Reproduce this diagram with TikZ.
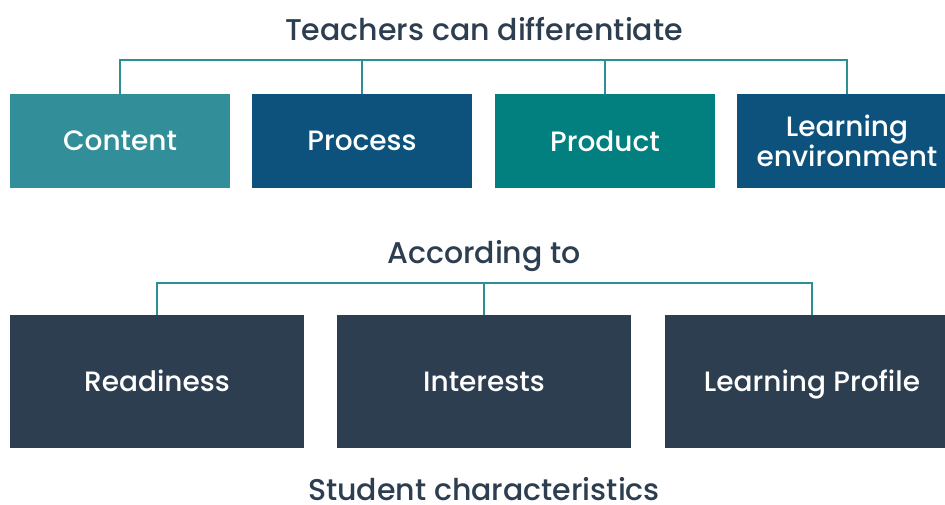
\documentclass[tikz,border=0pt]{standalone}
\usepackage{fontspec}
\setmainfont{Poppins}[UprightFont=* Medium]
\usetikzlibrary{calc}
\definecolor{ink}{HTML}{2D3E50}
\definecolor{tealA}{HTML}{328F9A}
\definecolor{tealB}{HTML}{02807F}
\definecolor{navy}{HTML}{0C527C}
\definecolor{rule}{HTML}{2A9096}
\tikzset{
  box/.style={inner sep=0pt,text=white,align=center,font=\fontsize{28}{28}\selectfont},
  trait/.style={box,fill=ink,minimum width=294,minimum height=133,text height=20pt,text depth=0pt},
  head/.style={inner sep=0pt,text=ink,font=\fontsize{30}{32}\selectfont},
  link/.style={draw=rule,line width=1.1pt}
}
\begin{document}
\begin{tikzpicture}[x=1pt,y=-1pt]
\useasboundingbox (0,0) rectangle (945,504);
\def\w{220}
% first row
\node[head] (t1) at (484,29) {Teachers can differentiate};
\node[box,fill=tealA,minimum width=\w,minimum height=94] (a1) at (120,141) {Content};
\node[box,fill=navy,minimum width=\w,minimum height=94] (a2) at (362,141) {Process};
\node[box,fill=tealB,minimum width=\w,minimum height=94] (a3) at (605,141) {Product};
\node[box,fill=navy,minimum width=\w,minimum height=94] (a4) at (847,141) {Learning\\environment};
\coordinate (bar1) at (484,60);
\draw[link] (a1.north) |- (bar1) -| (a4.north);
\draw[link] (a2.north) -- (a2.north |- bar1);
\draw[link] (a3.north) -- (a3.north |- bar1);

% second row
\node[head] (t2) at (484,256) {According to};
\node[trait] (b1) at (157,381.5) {Readiness};
\node[trait] (b2) at (484,381.5) {Interests};
\node[trait] (b3) at (812,381.5) {Learning Profile};
\coordinate (bar2) at (484,283);
\draw[link] (b1.north) |- (bar2) -| (b3.north);
\draw[link] (b2.north) -- (b2.north |- bar2);

\node[head,anchor=base] (t3) at (484,500) {Student characteristics};
\end{tikzpicture}
\end{document}
